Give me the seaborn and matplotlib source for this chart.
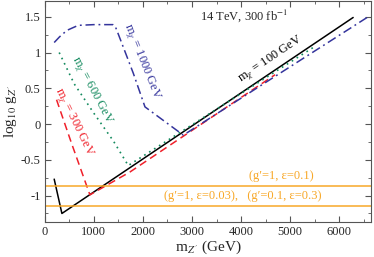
import matplotlib
matplotlib.use("Agg")
import matplotlib.pyplot as plt
import seaborn as sns
from matplotlib.ticker import MultipleLocator, FuncFormatter

# m_chi = 100 GeV (black, solid)
m100 = [190, 347, 6286]
g100 = [-0.77, -1.25, 1.49]
# m_chi = 300 GeV (red, dashed)
m300 = [238, 544, 918, 1735, 4694]
g300 = [0.34, -0.27, -0.99, -0.67, 0.69]
# m_chi = 600 GeV (green, dotted)
m600 = [292, 600, 1000, 1400, 1700, 5470]
g600 = [1.0, 0.56, 0.15, -0.24, -0.58, 1.07]
# m_chi = 1000 GeV (blue, dash-dot)
m1000 = [190, 300, 450, 680, 1000, 1390, 1430, 1462, 1803, 2041, 2823, 6570]
g1000 = [1.14, 1.22, 1.31, 1.38, 1.39, 1.39, 1.37, 1.32, 0.71, 0.24, -0.155, 1.49]

# horizontal benchmark lines
g_bench = [-0.863, -1.14]

BLACK, RED, GREEN, BLUE, ORANGE = "black", "#f0202a", "#138a5e", "#34349c", "#f8a828"

sns.set_style("ticks")
plt.rcParams["font.family"] = ["Liberation Serif", "DejaVu Serif"]
plt.rcParams["mathtext.fontset"] = "stix"
plt.rcParams["axes.unicode_minus"] = False

fig = plt.figure(figsize=(3.74, 2.57), dpi=100)
ax = fig.add_axes([0.12, 0.136, 0.872, 0.86])

sns.lineplot(x=m100, y=g100, sort=False, color=BLACK, lw=1.1, ax=ax)
sns.lineplot(x=m300, y=g300, sort=False, color=RED, lw=1.1, ax=ax, linestyle=(0, (5, 3)))
sns.lineplot(x=m600, y=g600, sort=False, color=GREEN, lw=1.2, ax=ax, linestyle=(0, (1, 2.5)))
sns.lineplot(x=m1000, y=g1000, sort=False, color=BLUE, lw=1.1, ax=ax, linestyle=(0, (6, 2.5, 1.2, 2.5)))
for g in g_bench:
    ax.axhline(g, color=ORANGE, lw=1.1)

ax.set_xlim(0, 6650)
ax.set_ylim(-1.37, 1.72)
ax.xaxis.set_major_locator(MultipleLocator(1000))
ax.xaxis.set_minor_locator(MultipleLocator(500))
ax.yaxis.set_major_locator(MultipleLocator(0.5))
ax.yaxis.set_minor_locator(MultipleLocator(0.25))
ax.yaxis.set_major_formatter(FuncFormatter(lambda v, p: "%g" % v))
ax.tick_params(which="both", direction="in", top=True, right=True, labelsize=9, color="#555555")
ax.tick_params(which="major", length=4, pad=3)
ax.tick_params(which="minor", length=2.5)
for s in ax.spines.values():
    s.set_color("#555555")
    s.set_linewidth(0.8)

ax.set_xlabel("m$_{Z'}$ (GeV)", fontsize=11, labelpad=0)
ax.set_ylabel("log$_{10}$ g$_{Z'}$", fontsize=11, labelpad=1)

ax.text(3160, 1.52, "14 TeV, 300 fb$^{-1}$", fontsize=9, ha="left", va="center")
ax.text(4600, 0.9, r"m$_\chi$ = 100 GeV", color=BLACK, fontsize=9, rotation=34,
        ha="center", va="center", rotation_mode="anchor")
ax.text(1980, 0.87, r"m$_\chi$ = 1000 GeV", color=BLUE, fontsize=9, rotation=-68,
        ha="center", va="center", rotation_mode="anchor")
ax.text(960, 0.47, r"m$_\chi$ = 600 GeV", color=GREEN, fontsize=9, rotation=-62,
        ha="center", va="center", rotation_mode="anchor")
ax.text(592, 0.03, r"m$_\chi$ = 300 GeV", color=RED, fontsize=9, rotation=-64,
        ha="center", va="center", rotation_mode="anchor")
ax.text(4830, -0.73, "(g\u2032=1, \u03b5=0.1)", color=ORANGE, fontsize=9, ha="center", va="center")
ax.text(4030, -1.01, "(g\u2032=1, \u03b5=0.03),   (g\u2032=0.1, \u03b5=0.3)", color=ORANGE, fontsize=9,
        ha="center", va="center")

fig.savefig("out.png", dpi=100)
